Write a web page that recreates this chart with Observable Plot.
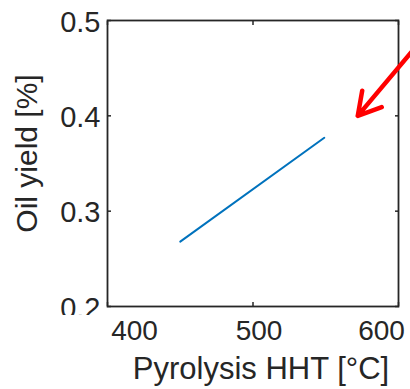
<!DOCTYPE html>
<html>
<head>
<meta charset="utf-8">
<script src="https://cdn.jsdelivr.net/npm/d3@7"></script>
<script src="https://cdn.jsdelivr.net/npm/@observablehq/plot@0.6"></script>
<style>
  html, body { margin: 0; padding: 0; background: #fff; }
</style>
</head>
<body>
<div id="chart"></div>
<script>
// ---- data ----
const hht = [450, 549];              // Pyrolysis HHT [°C]
const oilYield = [0.268, 0.377];     // Oil yield [%]
const xTicks = [400, 500, 600];
const yTicks = [0.2, 0.3, 0.4, 0.5];
const xTitle = "Pyrolysis HHT [°C]";
const yTitle = "Oil yield [%]";
// annotation arrow (tail -> tip), in data units
const arrowX = [615, 572];
const arrowY = [0.478, 0.400];

// ---- styling ----
const ink = "#262626";
const font = "'Liberation Sans', Arial, Helvetica, sans-serif";
const xLabelShift = [27, 6, -17];   // label offsets seen in the reference

const lineData = hht.map((x, i) => ({x, y: oilYield[i]}));
const arrowData = [{x1: arrowX[0], y1: arrowY[0], x2: arrowX[1], y2: arrowY[1]}];

const chart = Plot.plot({
  width: 410,
  height: 389,
  marginLeft: 107,
  marginRight: 12,
  marginTop: 20,
  marginBottom: 83,
  style: {fontFamily: font, color: ink, background: "#fff", overflow: "hidden"},
  x: {domain: [400, 600]},
  y: {domain: [0.2, 0.5]},
  marks: [
    // inward tick marks
    Plot.axisX({anchor: "bottom", ticks: xTicks, tickSize: -4, text: null, label: null, stroke: ink, strokeWidth: 1.5}),
    Plot.axisX({anchor: "top", ticks: xTicks, tickSize: -4, text: null, label: null, stroke: ink, strokeWidth: 1.5}),
    Plot.axisY({anchor: "left", ticks: yTicks, tickSize: -4, text: null, label: null, stroke: ink, strokeWidth: 1.5}),
    Plot.axisY({anchor: "right", ticks: yTicks, tickSize: -4, text: null, label: null, stroke: ink, strokeWidth: 1.5}),
    // tick labels
    ...xTicks.map((t, i) => Plot.axisX({anchor: "bottom", ticks: [t], tickSize: 0, tickPadding: 14, fontSize: 28,
      dx: xLabelShift[i], label: null, fill: ink})),
    Plot.axisY({anchor: "left", ticks: yTicks, tickSize: 0, tickPadding: 7, fontSize: 29, dy: 2,
      tickFormat: d3.format(".1f"), label: null, fill: ink}),
    // frame
    Plot.frame({stroke: ink, strokeWidth: 1.8}),
    // data line
    Plot.line(lineData, {x: "x", y: "y", stroke: "#0072BD", strokeWidth: 2}),
    // red annotation arrow
    Plot.arrow(arrowData, {x1: "x1", y1: "y1", x2: "x2", y2: "y2", stroke: "#ff0000", strokeWidth: 4.5, headLength: 8.5}),
    // axis titles
    Plot.text([xTitle], {frameAnchor: "bottom", text: d => d, fontSize: 31, textAnchor: "middle", lineAnchor: "bottom", dy: 72, dx: 8, fill: ink}),
    Plot.text([yTitle], {frameAnchor: "left", text: d => d, fontSize: 30, textAnchor: "middle", rotate: -90, lineAnchor: "bottom", dx: -71, dy: -10, fill: ink})
  ]
});

document.getElementById("chart").appendChild(chart);

// the "0.2" tick label is cut off just below the axis in the reference
(function clipBottomLabel() {
  const y = chart.scale("y");
  const cut = y.apply(0.2) + 9;
  const ns = "http://www.w3.org/2000/svg";
  const defs = document.createElementNS(ns, "defs");
  const cp = document.createElementNS(ns, "clipPath");
  cp.setAttribute("id", "cut02");
  cp.setAttribute("clipPathUnits", "userSpaceOnUse");
  const r = document.createElementNS(ns, "rect");
  r.setAttribute("x", -1000); r.setAttribute("y", -1000);
  r.setAttribute("width", 3000); r.setAttribute("height", 1000 + cut);
  cp.appendChild(r); defs.appendChild(cp); chart.insertBefore(defs, chart.firstChild);
  chart.querySelectorAll("g[aria-label='y-axis tick label'] text").forEach(t => {
    if (t.textContent.trim() === "0.2") {
      const g = document.createElementNS(ns, "g");
      g.setAttribute("clip-path", "url(#cut02)");
      const parent = t.parentNode;
      parent.parentNode.insertBefore(g, parent);
      const ctm = t.getCTM();
      const clone = t.cloneNode(true);
      clone.setAttribute("transform", `matrix(${ctm.a},${ctm.b},${ctm.c},${ctm.d},${ctm.e},${ctm.f})`);
      const cs = getComputedStyle(t);
      clone.setAttribute("font-size", cs.fontSize);
      clone.setAttribute("font-family", cs.fontFamily);
      clone.setAttribute("text-anchor", cs.textAnchor);
      clone.setAttribute("fill", cs.fill);
      g.appendChild(clone);
      t.remove();
    }
  });
})();
</script>
</body>
</html>
